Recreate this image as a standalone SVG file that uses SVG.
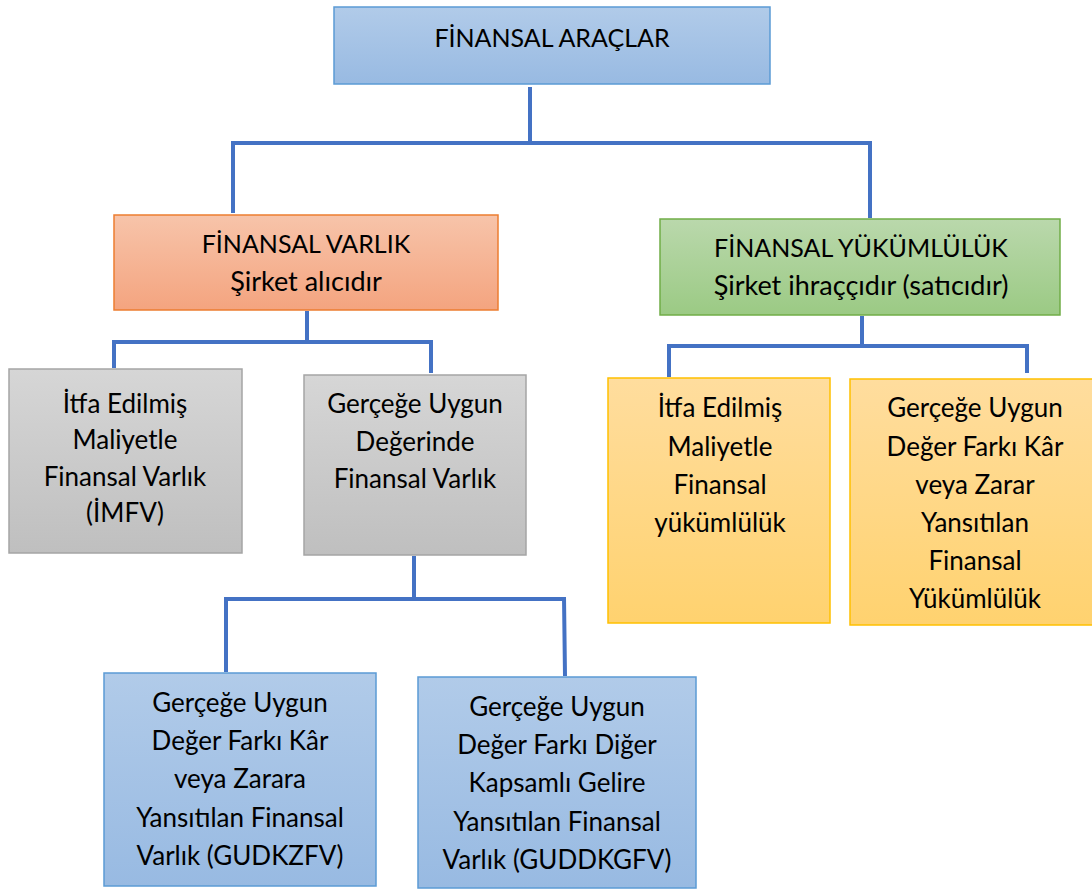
<svg xmlns="http://www.w3.org/2000/svg" width="1092" height="889" viewBox="0 0 1092 889">
<defs>
<linearGradient id="gBlue" x1="0" y1="0" x2="0" y2="1"><stop offset="0" stop-color="#b1cbe9"/><stop offset="1" stop-color="#98bae2"/></linearGradient>
<linearGradient id="gOrange" x1="0" y1="0" x2="0" y2="1"><stop offset="0" stop-color="#f7c4aa"/><stop offset="1" stop-color="#f4a47f"/></linearGradient>
<linearGradient id="gGreen" x1="0" y1="0" x2="0" y2="1"><stop offset="0" stop-color="#bad8ac"/><stop offset="1" stop-color="#9bca84"/></linearGradient>
<linearGradient id="gGray" x1="0" y1="0" x2="0" y2="1"><stop offset="0" stop-color="#d6d6d6"/><stop offset="1" stop-color="#bfbfbf"/></linearGradient>
<linearGradient id="gYellow" x1="0" y1="0" x2="0" y2="1"><stop offset="0" stop-color="#ffdd9e"/><stop offset="1" stop-color="#ffd26f"/></linearGradient>
</defs>
<style>
text{font-family:Lato,"Open Sans","Liberation Sans",sans-serif;font-size:26px;fill:#000;text-anchor:middle}
.big{font-size:25px}
.sub{font-size:27px}
.blue{fill:url(#gBlue);stroke:#5b9bd5;stroke-width:1.5}
.orange{fill:url(#gOrange);stroke:#ed7d31;stroke-width:1.5}
.green{fill:url(#gGreen);stroke:#70ad47;stroke-width:1.5}
.gray{fill:url(#gGray);stroke:#a5a5a5;stroke-width:1.5}
.yellow{fill:url(#gYellow);stroke:#ffc000;stroke-width:1.5}
.conn{fill:none;stroke:#4472c4;stroke-width:4}
</style>
<rect width="1092" height="889" fill="#ffffff"/>
<g id="connectors">
<path class="conn" d="M530,87 V143 M233,143 H870 M233,141 V213 M870,141 V218"/>
<path class="conn" d="M307,311 V342 M114,342 H431 M114,340 V368 M431,340 V373"/>
<path class="conn" d="M862,316 V346 M669,346 H1027 M669,344 V377 M1027,344 V373"/>
<path class="conn" d="M414,556 V599 M226,599 H564 M226,597 V672 M564,597 L565,676"/>
</g>
<g id="n-finansal-araclar">
<rect class="blue" x="334" y="7" width="436" height="77"/>
<text class="big" x="552" y="47">FİNANSAL ARAÇLAR</text>
</g>
<g id="n-finansal-varlik">
<rect class="orange" x="114" y="215" width="384" height="95"/>
<text class="big" x="306" y="253">FİNANSAL VARLIK</text>
<text class="sub" x="306" y="291">Şirket alıcıdır</text>
</g>
<g id="n-finansal-yukumluluk">
<rect class="green" x="660" y="219" width="400" height="96"/>
<text class="big" x="861" y="257">FİNANSAL YÜKÜMLÜLÜK</text>
<text class="sub" x="861" y="295">Şirket ihraççıdır (satıcıdır)</text>
</g>
<g id="n-imfv">
<rect class="gray" x="9" y="369" width="233" height="184"/>
<text x="125" y="413">İtfa Edilmiş</text>
<text x="125" y="449">Maliyetle</text>
<text x="125" y="486">Finansal Varlık</text>
<text x="125" y="522">(İMFV)</text>
</g>
<g id="n-gud">
<rect class="gray" x="304" y="375" width="222" height="180"/>
<text x="415" y="413">Gerçeğe Uygun</text>
<text x="415" y="451">Değerinde</text>
<text x="415" y="488">Finansal Varlık</text>
</g>
<g id="n-gudkzfv">
<rect class="blue" x="104" y="673" width="272" height="213"/>
<text x="240" y="712">Gerçeğe Uygun</text>
<text x="240" y="750">Değer Farkı Kâr</text>
<text x="240" y="788">veya Zarara</text>
<text x="240" y="827">Yansıtılan Finansal</text>
<text x="240" y="865">Varlık (GUDKZFV)</text>
</g>
<g id="n-guddkgfv">
<rect class="blue" x="418" y="677" width="278" height="211"/>
<text x="557" y="716">Gerçeğe Uygun</text>
<text x="557" y="754">Değer Farkı Diğer</text>
<text x="557" y="792">Kapsamlı Gelire</text>
<text x="557" y="831">Yansıtılan Finansal</text>
<text x="557" y="869">Varlık (GUDDKGFV)</text>
</g>
<g id="n-itfa-yukumluluk">
<rect class="yellow" x="608" y="378" width="222" height="245"/>
<text x="720" y="417">İtfa Edilmiş</text>
<text x="720" y="456">Maliyetle</text>
<text x="720" y="494">Finansal</text>
<text x="720" y="532">yükümlülük</text>
</g>
<g id="n-gudkz-yukumluluk">
<rect class="yellow" x="850" y="379" width="245" height="246"/>
<text x="975" y="417">Gerçeğe Uygun</text>
<text x="975" y="456">Değer Farkı Kâr</text>
<text x="975" y="494">veya Zarar</text>
<text x="975" y="532">Yansıtılan</text>
<text x="975" y="570">Finansal</text>
<text x="975" y="608">Yükümlülük</text>
</g>
</svg>
